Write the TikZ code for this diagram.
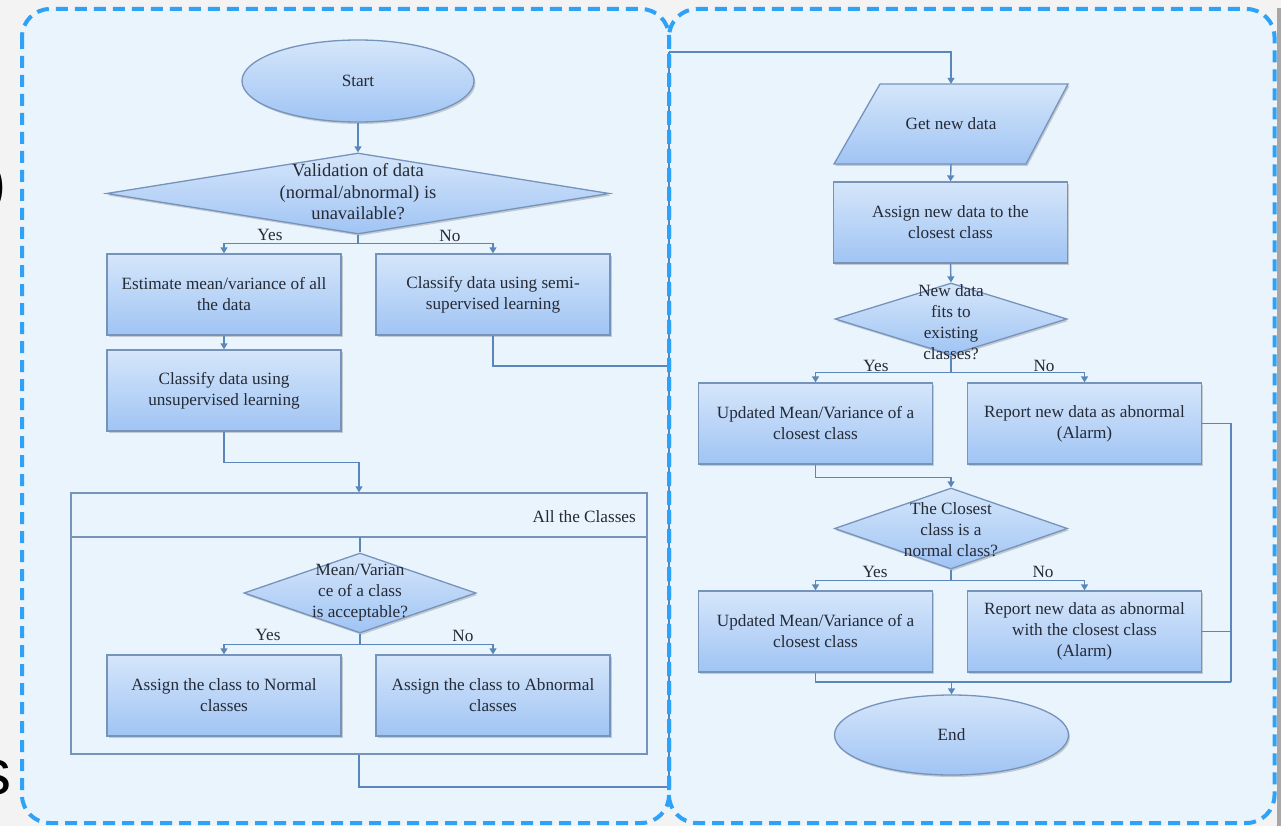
\documentclass[tikz,border=0pt]{standalone}
\usepackage{fontspec}
\setmainfont{Liberation Serif}
\newfontfamily\edgefont{Liberation Sans}
\usetikzlibrary{shapes.geometric,arrows.meta,shadows,calc}
\definecolor{pagebg}{HTML}{F3F3F3}
\definecolor{panelbg}{HTML}{EAF4FD}
\definecolor{dashblue}{HTML}{2DA2F6}
\definecolor{boxtop}{HTML}{D5E6FA}
\definecolor{boxbot}{HTML}{A0C4F4}
\definecolor{edgec}{HTML}{7693BC}
\definecolor{wirec}{HTML}{5A86B9}
\definecolor{ink}{HTML}{252A35}
\begin{document}
\begin{tikzpicture}[x=1pt,y=-1pt,
  every node/.style={font=\fontsize{17.2}{21}\selectfont, text=ink},
  shaded/.style={draw=edgec, line width=1.3pt, top color=boxtop, bottom color=boxbot,
    drop shadow={shadow xshift=1.5pt, shadow yshift=-2pt, fill=black!60, opacity=0.3}},
  procbox/.style={shaded, rectangle, minimum width=234, minimum height=81, inner sep=2pt, align=center},
  terminal/.style={shaded, ellipse, minimum width=232, minimum height=82, inner sep=0pt},
  decision/.style={shaded, diamond, inner sep=0pt},
  dtext/.style={align=center, inner sep=0pt},
  wire/.style={draw=wirec, line width=1.4pt},
  arr/.style={wire, -{Triangle[width=7pt,length=6pt]}},
  branch/.style={inner sep=0pt},
  panel/.style={draw=dashblue, line width=4pt, dash pattern=on 12pt off 7pt, rounded corners=28pt},
]
% page and panels
\fill[pagebg] (0,0) rectangle (1281,826);
\fill[black!35] (1277,8) rectangle (1281,826);
\useasboundingbox (0,0) rectangle (1281,826);
\fill[panelbg, rounded corners=28pt] (22,9) rectangle (669,823);
\fill[panelbg, rounded corners=28pt] (669,9) rectangle (1274.5,823);

% stray glyphs at the left edge
\node[font=\edgefont\fontsize{60}{60}\selectfont, text=black, anchor=east, inner sep=0pt] (paren) at (6.5,188) {)};
\node[font=\edgefont\fontsize{64}{64}\selectfont, text=black, anchor=east, inner sep=0pt] (tail) at (12,778) {s};

% ---------- training part ----------
\node[terminal] (start) at (358,81) {Start};
\node[decision, minimum width=503, minimum height=81] (d1) at (358,193.5) {};
\node[dtext, font=\fontsize{18.5}{21.5}\selectfont] (d1t) at (358,192) {Validation of data\\(normal/abnormal) is\\unavailable?};
\node[procbox] (est) at (224,294.5) {Estimate mean/variance of all\\the data};
\node[procbox] (semi) at (493,294.5) {Classify data using semi-\\supervised learning};
\node[procbox] (unsup) at (224,390.5) {Classify data using\\unsupervised learning};

\node[draw=edgec, line width=1.3pt, minimum width=576, minimum height=261, inner sep=0pt] (cls) at (359,623.5) {};
\coordinate (hdr) at (360,537);
\draw[draw=edgec, line width=1.3pt] (cls.west |- hdr) -- (cls.east |- hdr);
\node[anchor=east, inner sep=0pt] (clstitle) at (636,517) {All the Classes};
\node[decision, minimum width=232, minimum height=80] (d2) at (360,593) {};
\node[dtext] (d2t) at (360,592.5) {Mean/Varian\\ce of a class\\is acceptable?};
\node[procbox] (norm) at (224,695.5) {Assign the class to Normal\\classes};
\node[procbox] (abn) at (493,695.5) {Assign the class to Abnormal\\classes};

% ---------- online part ----------
% input/output parallelogram
\path[shaded] (834,164) -- (880,84) -- (1068,84) -- (1026,164) -- cycle;
\node[inner sep=0pt, minimum width=192, minimum height=80] (get) at (951,124) {Get new data};
\node[procbox] (assign) at (950.5,222.5) {Assign new data to the\\closest class};
\node[decision, minimum width=232, minimum height=72] (d3) at (951,319) {};
\node[dtext] (d3t) at (951,322) {New data\\fits to\\existing\\classes?};
\node[procbox] (upd1) at (815.5,423.5) {Updated Mean/Variance of a\\closest class};
\node[procbox] (rep1) at (1084.5,423.5) {Report new data as abnormal\\(Alarm)};
\node[decision, minimum width=233, minimum height=81] (d4) at (951,528.5) {};
\node[dtext] (d4t) at (951,529.5) {The Closest\\class is a\\normal class?};
\node[procbox] (upd2) at (815.5,631.5) {Updated Mean/Variance of a\\closest class};
\node[procbox] (rep2) at (1084.5,631.5) {Report new data as abnormal\\with the closest class\\(Alarm)};
\node[terminal, minimum width=234, minimum height=80] (stop) at (951.5,735) {End};

% ---------- connectors ----------
\draw[arr] (start.south) -- (d1.north);
\draw[arr] (d1.south) -- ++(0,9) -| (est.north);
\draw[arr] (d1.south) -- ++(0,9) -| (semi.north);
\node[branch] (y1) at (270,235) {Yes};
\node[branch] (n1) at (450,236) {No};
\draw[arr] (est.south) -- (unsup.north);
\draw[arr] (unsup.south) -- ++(0,31) -| (cls.north);
\draw[wire] (hdr) -- (d2.north);
\draw[arr] (d2.south) -- ++(0,11) -| (norm.north);
\draw[arr] (d2.south) -- ++(0,11) -| (abn.north);
\node[branch] (y2) at (268,635) {Yes};
\node[branch] (n2) at (463,636) {No};

\coordinate (joinlo) at (669,787);
\coordinate (joinmid) at (669,366);
\coordinate (joinup) at (669,52);
\draw[wire] (cls.south) |- (joinlo) -- (joinup);
\draw[wire] (semi.south) |- (joinmid);
\draw[arr] (joinup) -| (get.north);

\draw[arr] (get.south) -- (assign.north);
\draw[arr] (assign.south) -- (d3.north);
\draw[arr] (d3.south) -- ++(0,17) -| (upd1.north);
\draw[arr] (d3.south) -- ++(0,17) -| (rep1.north);
\node[branch] (y3) at (876,366) {Yes};
\node[branch] (n3) at (1044,366) {No};
\draw[arr] (upd1.south) -- ++(0,13) -| (d4.north);
\draw[arr] (d4.south) -- ++(0,11) -| (upd2.north);
\draw[arr] (d4.south) -- ++(0,11) -| (rep2.north);
\node[branch] (y4) at (875,572) {Yes};
\node[branch] (n4) at (1043,572) {No};

\coordinate (railtop) at (1231,423.5);
\coordinate (railbot) at (1231,682);
\draw[wire] (rep1.east) -- (railtop) -- (railbot);
\draw[wire] (rep2.east) -- (rep2.east -| railbot);
\draw[wire] (upd2.south) |- (railbot);
\draw[arr] (stop.north |- railbot) -- (stop.north);

% panel borders on top
\draw[panel] (22,9) rectangle (669,823);
\draw[panel] (669,9) rectangle (1274.5,823);
\end{tikzpicture}
\end{document}
